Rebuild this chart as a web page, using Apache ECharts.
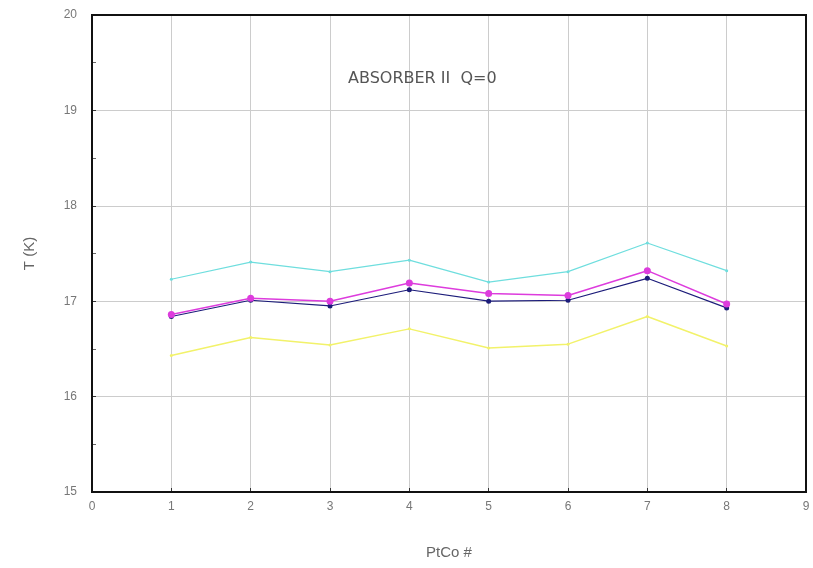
<!DOCTYPE html>
<html><head><meta charset="utf-8">
<script src="https://cdn.jsdelivr.net/npm/echarts@6/dist/echarts.min.js"></script>
<style>html,body{margin:0;padding:0;background:#fff}#c{width:813px;height:568px}</style>
</head><body><div id="c"></div>
<script>
var pts = [1,2,3,4,5,6,7,8];
var cyanVals    = [17.23,17.41,17.31,17.43,17.20,17.31,17.61,17.32];
var magentaVals = [16.86,17.03,17.00,17.19,17.08,17.06,17.32,16.97];
var navyVals    = [16.84,17.01,16.95,17.12,17.00,17.01,17.24,16.93];
var yellowVals  = [16.43,16.62,16.54,16.71,16.51,16.55,16.84,16.53];
var xTicks = [0,1,2,3,4,5,6,7,8,9];
var yTicks = [15,16,17,18,19,20];
var titleText = 'ABSORBER II  Q=0';

function pairs(v){ return pts.map(function(p,i){ return [p, v[i]]; }); }
function ser(name, vals, color, size, width){
  return {name:name, type:'line', data:pairs(vals), symbol:'circle', symbolSize:size,
    lineStyle:{color:color, width:width}, itemStyle:{color:color}, animation:false, z:3};
}
var chart = echarts.init(document.getElementById('c'));
chart.setOption({
  backgroundColor:'#fff',
  animation:false,
  title:{text:titleText, left:343, top:66, textStyle:{fontFamily:'DejaVu Sans', fontSize:16, fontWeight:'normal', color:'#555'}},
  grid:{left:92, right:7, top:15, bottom:76},
  xAxis:{type:'value', min:xTicks[0], max:xTicks[xTicks.length-1], interval:1,
    name:'PtCo #', nameLocation:'middle', nameGap:53,
    nameTextStyle:{fontFamily:'Liberation Sans', fontSize:15, color:'#666'},
    axisLine:{show:true, lineStyle:{color:'#111', width:2}},
    axisTick:{show:true, inside:true, length:4, lineStyle:{color:'#333'}},
    axisLabel:{fontFamily:'Liberation Sans', fontSize:12, color:'#777', margin:9},
    splitLine:{show:true, lineStyle:{color:'#ccc', width:1}}},
  yAxis:{type:'value', min:yTicks[0], max:yTicks[yTicks.length-1], interval:1,
    name:'T (K)', nameLocation:'middle', nameGap:55, nameRotate:90,
    nameTextStyle:{fontFamily:'Liberation Sans', fontSize:15, color:'#666'},
    axisLine:{show:true, lineStyle:{color:'#111', width:2}},
    axisTick:{show:true, inside:true, length:4, lineStyle:{color:'#333'}},
    minorTick:{show:true, splitNumber:2, length:4, lineStyle:{color:'#666'}},
    axisLabel:{fontFamily:'Liberation Sans', fontSize:12, color:'#777', margin:15},
    splitLine:{show:true, lineStyle:{color:'#ccc', width:1}}},
  graphic:[{type:'rect', shape:{x:92, y:15, width:714, height:477}, style:{fill:'none', stroke:'#111', lineWidth:2}, z:10, silent:true}],
  series:[
    ser('cyan', cyanVals, '#6fdede', 3, 1.2),
    ser('yellow', yellowVals, '#f2f26a', 3, 1.5),
    ser('navy', navyVals, '#1c1c7a', 5, 1.2),
    ser('magenta', magentaVals, '#dd3cdd', 7, 1.5)
  ]
});
</script></body></html>
